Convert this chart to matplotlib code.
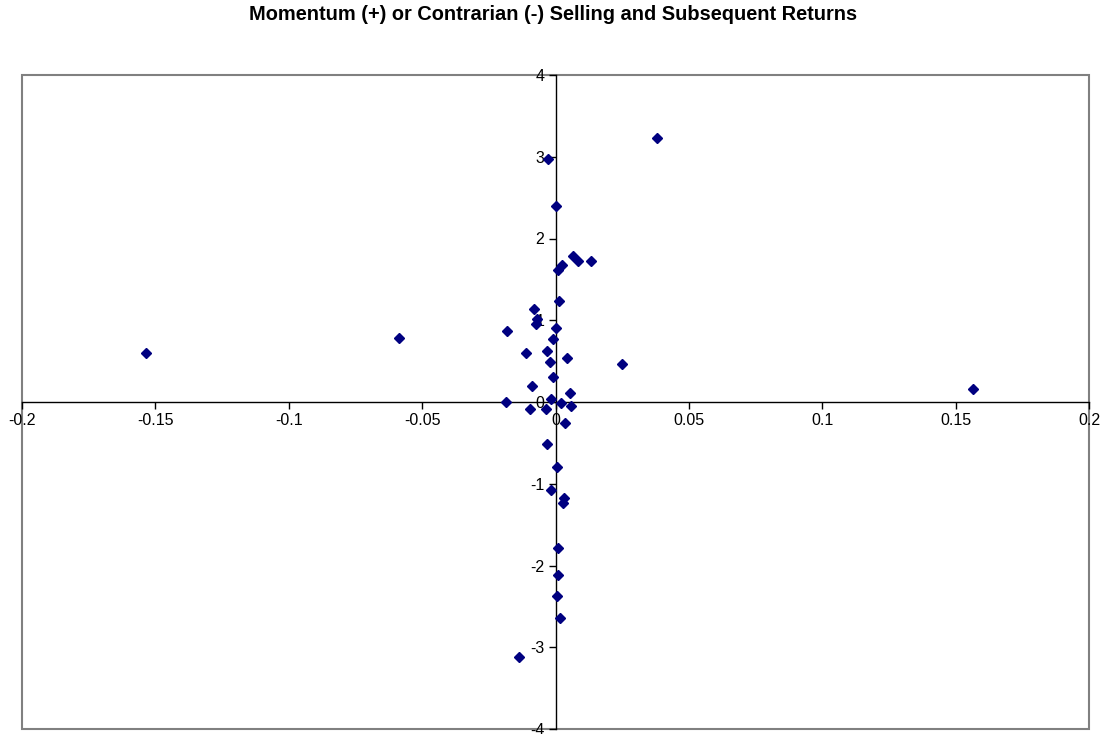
import matplotlib
matplotlib.use("Agg")
import matplotlib.pyplot as plt
from matplotlib.patches import Rectangle

plt.rcParams['font.family'] = ['Liberation Sans', 'DejaVu Sans']
plt.rcParams['axes.unicode_minus'] = False

# selling measure (x) vs subsequent return (y)
x_vals = [0.0379, -0.0027, 0.0002, 0.0064, 0.0083, 0.0133, 0.0023, 0.0009, 0.0014,
          -0.0080, -0.0068, -0.0073, -0.0183, 0.0003, -0.0008, -0.0112, -0.0031,
          0.0043, -0.0019, 0.0248, -0.0009, -0.0089, 0.0053, -0.0184, -0.0018,
          0.0019, 0.0058, -0.0094, -0.0036, 0.0036, -0.0031, 0.0004, -0.0017,
          0.0032, 0.0027, 0.0008, 0.0009, 0.0004, 0.0018, -0.0138, -0.1535,
          -0.0587, 0.1564]
y_vals = [3.23, 2.97, 2.40, 1.78, 1.72, 1.73, 1.67, 1.61, 1.23,
          1.14, 1.02, 0.96, 0.87, 0.90, 0.77, 0.60, 0.62,
          0.54, 0.49, 0.46, 0.30, 0.19, 0.11, 0.00, 0.04,
          -0.01, -0.05, -0.09, -0.09, -0.26, -0.51, -0.80, -1.08,
          -1.17, -1.23, -1.79, -2.12, -2.37, -2.64, -3.12, 0.60,
          0.78, 0.16]

x_ticks = [-0.2, -0.15, -0.1, -0.05, 0, 0.05, 0.1, 0.15, 0.2]
x_labels = ['-0.2', '-0.15', '-0.1', '-0.05', '0', '0.05', '0.1', '0.15', '0.2']
y_ticks = [-4, -3, -2, -1, 0, 1, 2, 3, 4]

fig = plt.figure(figsize=(11.07, 7.34), dpi=100)
ax = fig.add_axes([22 / 1107, 5 / 734, 1067 / 1107, 654 / 734])

ax.plot(x_vals, y_vals, linestyle='none', marker='D', markersize=5.5,
        color='#000080', markeredgecolor='#000080', clip_on=False, zorder=3)

ax.set_xlim(-0.2, 0.2)
ax.set_ylim(-4, 4)

ax.spines['left'].set_position('zero')
ax.spines['bottom'].set_position('zero')
ax.spines['top'].set_visible(False)
ax.spines['right'].set_visible(False)
for s in ('left', 'bottom'):
    ax.spines[s].set_color('black')
    ax.spines[s].set_linewidth(1.0)

ax.set_xticks(x_ticks)
ax.set_xticklabels(x_labels)
ax.set_yticks(y_ticks)
ax.tick_params(direction='out', length=5, width=1, labelsize=11.5, color='black', pad=3)

ax.add_patch(Rectangle((0, 0), 1, 1, transform=ax.transAxes, fill=False,
                       edgecolor='#808080', linewidth=1.5, clip_on=False, zorder=1))

fig.text(0.5, 1 - 15 / 734, 'Momentum (+) or Contrarian (-) Selling and Subsequent Returns',
         ha='center', va='center', fontsize=14.4, fontweight='bold')

fig.savefig('out.png', dpi=100)
